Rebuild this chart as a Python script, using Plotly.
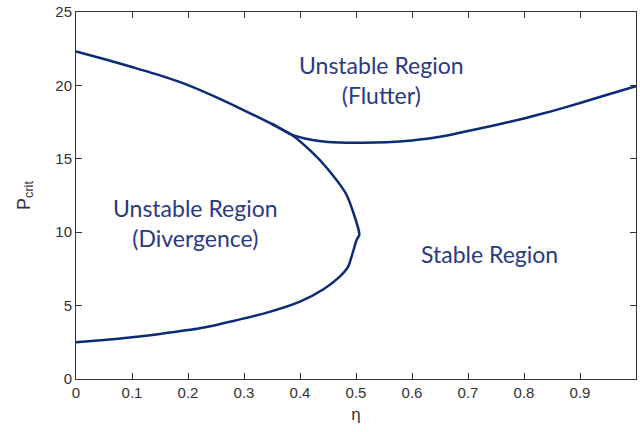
import plotly.graph_objects as go

# Divergence boundary (eta, P_crit)
div_eta = [0.0, 0.05, 0.1, 0.15, 0.2, 0.257, 0.3, 0.346, 0.385, 0.42, 0.448, 0.483, 0.506,
           0.501, 0.486, 0.471, 0.442, 0.4, 0.341, 0.281, 0.221, 0.15, 0.1, 0.05, 0.0]
div_p = [22.32, 21.8, 21.25, 20.68, 20.02, 19.08, 18.3, 17.44, 16.64, 15.5, 14.37, 12.55, 9.83,
         9.47, 7.65, 6.97, 6.11, 5.27, 4.52, 3.95, 3.45, 3.07, 2.84, 2.65, 2.5]

# Flutter boundary
flu_eta = [0.35, 0.385, 0.42, 0.45, 0.5, 0.555, 0.6, 0.65, 0.7, 0.75, 0.8, 0.85, 0.9, 0.95, 1.0]
flu_p = [17.4, 16.65, 16.3, 16.15, 16.1, 16.13, 16.25, 16.5, 16.9, 17.3, 17.75, 18.25, 18.8, 19.38, 19.95]

x_ticks = [0, 0.1, 0.2, 0.3, 0.4, 0.5, 0.6, 0.7, 0.8, 0.9]
y_ticks = [0, 5, 10, 15, 20, 25]

labels = [
    (0.214, 10.6, "Unstable Region<br>(Divergence)"),
    (0.545, 20.4, "Unstable Region<br>(Flutter)"),
    (0.738, 8.5, "Stable Region"),
]

line_color = "#0b2a78"
text_color = "#2a3a82"

fig = go.Figure()
fig.add_trace(go.Scatter(x=div_eta, y=div_p, mode="lines",
                         line=dict(color=line_color, width=2.5, shape="spline", smoothing=0.6),
                         showlegend=False))
fig.add_trace(go.Scatter(x=flu_eta, y=flu_p, mode="lines",
                         line=dict(color=line_color, width=2.5, shape="spline", smoothing=0.6),
                         showlegend=False))

for x, y, t in labels:
    fig.add_annotation(x=x, y=y, text=t, showarrow=False,
                       font=dict(family="Lato", size=23, color=text_color),
                       align="center")

axis_common = dict(showgrid=False, zeroline=False, ticks="inside", ticklen=6,
                   tickcolor="#333333", showline=True, linecolor="#333333",
                   linewidth=1, mirror="ticks",
                   tickfont=dict(family="Liberation Sans", size=15, color="#333333"))

fig.update_xaxes(range=[0, 1], tickvals=x_ticks,
                 ticktext=[f"{v:g}" for v in x_ticks],
                 title=dict(text="η", font=dict(family="Liberation Sans", size=17, color="#333333"),
                            standoff=8),
                 **axis_common)
fig.update_yaxes(range=[0, 25], tickvals=y_ticks,
                 title=dict(text="P<sub>crit</sub>", font=dict(family="Liberation Sans", size=18, color="#333333"),
                            standoff=20),
                 **axis_common)

fig.update_layout(width=640, height=432,
                  margin=dict(l=76, r=4, t=12, b=53),
                  plot_bgcolor="white", paper_bgcolor="white")

fig.write_html("out.html")
